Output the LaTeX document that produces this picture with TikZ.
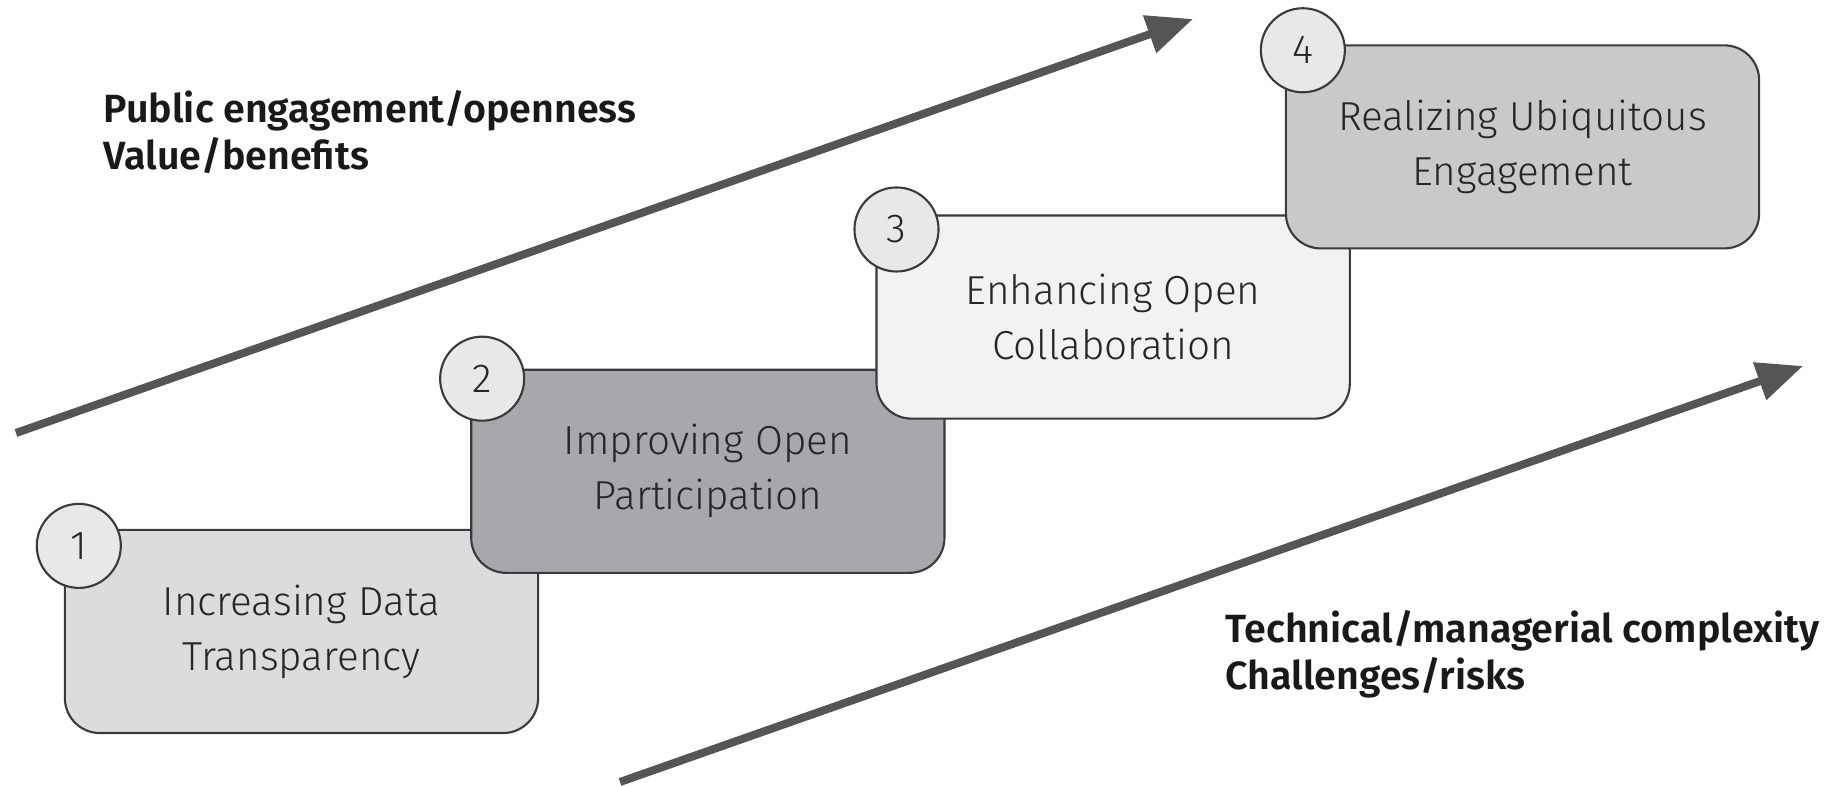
\documentclass[tikz,border=0pt]{standalone}
\usepackage{fontspec}
\setmainfont{Fira Sans}[UprightFont=* Light, BoldFont=* SemiBold]
\usetikzlibrary{positioning,arrows.meta}
\definecolor{boxA}{HTML}{DCDCDE}
\definecolor{boxB}{HTML}{A7A8AB}
\definecolor{boxC}{HTML}{F2F2F2}
\definecolor{boxD}{HTML}{C8C9CB}
\definecolor{circfill}{HTML}{E8E8E8}
\definecolor{arrowgray}{HTML}{555557}
\definecolor{edgegray}{HTML}{3A3A3A}
\begin{document}
\begin{tikzpicture}[x=0.01cm, y=-0.01cm,
  stepbox/.style = {draw=edgegray, line width=0.6pt, rounded corners=0.35cm, minimum width=4.73cm, minimum height=2.03cm, align=center, text=black!85, font=\fontsize{11.5}{15.6}\selectfont},
  numcirc/.style = {draw=edgegray, line width=0.6pt, circle, fill=circfill, minimum size=0.84cm, inner sep=0pt, text=black!85, font=\fontsize{11.5}{14}\selectfont},
  bigarrow/.style = {draw=arrowgray, line width=0.08cm, -{Triangle[length=0.46cm, width=0.38cm]}},
  lbl/.style = {align=left, inner sep=0pt, text=black!90, font=\fontsize{11.2}{13.2}\selectfont\bfseries}]
  \useasboundingbox (0,0) rectangle (1835,786);

  % arrows
  \coordinate (up0) at (16,433);
  \coordinate (up1) at (1193,19);
  \coordinate (lo0) at (620,782);
  \coordinate (lo1) at (1803,366);
  \draw[bigarrow] (up0) -- (up1);
  \draw[bigarrow] (lo0) -- (lo1);

  % steps
  \node[stepbox, fill=boxA] (b1) at (301.5,631.5) {Increasing Data\\Transparency};
  \node[stepbox, fill=boxB] (b2) [above right=-0.45cm and -0.69cm of b1] {Improving Open\\Participation};
  \node[stepbox, fill=boxC] (b3) [above right=-0.51cm and -0.70cm of b2] {Enhancing Open\\Collaboration};
  \node[stepbox, fill=boxD] (b4) [above right=-0.35cm and -0.66cm of b3] {Realizing Ubiquitous\\Engagement};

  % numbers
  \node[numcirc] (n1) at ([xshift=0.15cm, yshift=-0.17cm]b1.north west) {1};
  \node[numcirc] (n2) at ([xshift=0.12cm, yshift=-0.10cm]b2.north west) {2};
  \node[numcirc] (n3) at ([xshift=0.21cm, yshift=-0.15cm]b3.north west) {3};
  \node[numcirc] (n4) at ([xshift=0.18cm, yshift=-0.06cm]b4.north west) {4};

  % labels
  \node[lbl, anchor=north west] (benefit) at (103,90) {Public engagement/openness\\Value/benefits};
  \node[lbl, anchor=north west] (risk) at (1225,610) {Technical/managerial complexity\\Challenges/risks};
\end{tikzpicture}
\end{document}
